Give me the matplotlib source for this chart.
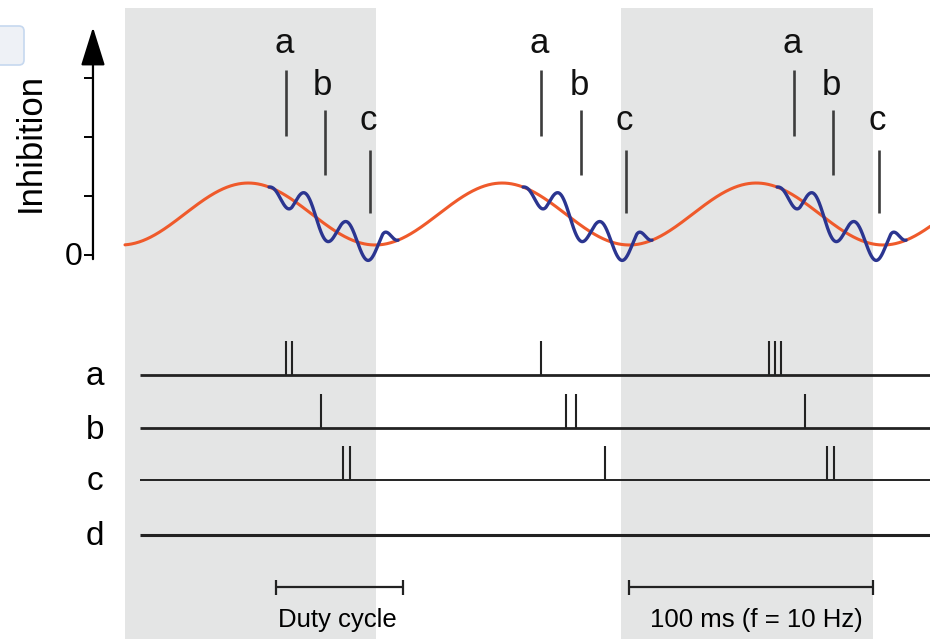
import numpy as np
import matplotlib
matplotlib.use('Agg')
import matplotlib.pyplot as plt
from matplotlib.patches import FancyBboxPatch, Rectangle
from matplotlib.transforms import IdentityTransform

plt.rcParams['font.family'] = ['Liberation Sans', 'DejaVu Sans']

# ---- values (time in ms, inhibition in a.u.) ----
shade_start = [0.0, 195.3]
shade_end = [98.8, 294.5]

# slow (theta) inhibition
theta_period = 100.0
theta_peak = 48.5
theta_mean = 0.695
theta_amp = 0.525
theta_t0, theta_t1 = 0.0, 320.0

# fast (gamma) ripple riding on the decay phase
cycle_offsets = [0, 100, 200]
gamma_on = 56.7
gamma_off = 107.5
gamma_zero = 58.9
gamma_period = 16.3
gamma_amp = 0.27

# a/b/c marker lines above the trace
marker_a = [63.4, 163.8, 263.4]
marker_b = [78.7, 179.5, 278.7]
marker_c = [96.5, 197.2, 296.9]
marker_labels = ['a', 'b', 'c']

# spike trains
spikes_a = [63.4, 65.9, 163.8, 253.7, 255.9, 258.2]
spikes_b = [77.0, 173.6, 177.4, 267.7]
spikes_c = [85.9, 88.6, 189.0, 276.5, 279.2]
spikes_d = []
row_labels = ['a', 'b', 'c', 'd']

y_ticks = [0, 1, 2, 3]

duty_bar = (59.4, 109.3)
period_bar = (198.5, 294.6)

# ---- layout ----
fig = plt.figure(figsize=(9.3, 6.39), dpi=100)
ax = fig.add_axes([0, 0, 1, 1])
ax.set_xlim(-49.2, 316.9)
ax.set_ylim(-6.508, 4.322)
ax.axis('off')

shade_top = 4.19
shade_col = '#e4e5e5'
red = '#ef5a2b'
blue = '#2b3590'
ink = '#222222'

for s0, s1 in zip(shade_start, shade_end):
    ax.add_patch(Rectangle((s0, -7), s1 - s0, shade_top + 7, color=shade_col, lw=0, zorder=0))

# inhibition traces
t = np.linspace(theta_t0, theta_t1, 1500)
theta = theta_mean + theta_amp * np.cos(2 * np.pi * (t - theta_peak) / theta_period)
ax.plot(t, theta, color=red, lw=2.2, zorder=3, solid_capstyle='round')

for off in cycle_offsets:
    tg = np.linspace(gamma_on + off, gamma_off + off, 400)
    base = theta_mean + theta_amp * np.cos(2 * np.pi * (tg - theta_peak) / theta_period)
    env = np.clip((tg - gamma_on - off) / 9.0, 0, 1) * np.clip((gamma_off + off - tg) / 6.0, 0, 1)
    ripple = -gamma_amp * env * np.sin(2 * np.pi * (tg - gamma_zero - off) / gamma_period)
    ax.plot(tg, base + ripple, color=blue, lw=2.4, zorder=4, solid_capstyle='round')

# marker lines + letters
marker_y = {'a': (2.02, 3.14, 3.42), 'b': (1.36, 2.46, 2.71), 'c': (0.71, 1.78, 2.12)}
for name, times in zip(marker_labels, [marker_a, marker_b, marker_c]):
    y0, y1, ytxt = marker_y[name]
    ax.vlines(times, y0, y1, color='#3c3c3c', lw=1.9, zorder=5)
    for tm in times:
        ax.text(tm - 0.8, ytxt, name, ha='center', va='baseline', fontsize=25, color='#111111')

# y axis with arrow
x_axis = -12.6
ax.annotate('', xy=(x_axis, 3.86), xytext=(x_axis, -0.07),
            arrowprops=dict(arrowstyle='-|>,head_length=1.6,head_width=0.5',
                            mutation_scale=15, lw=1.6, color='black',
                            shrinkA=0, shrinkB=0))
ax.hlines(y_ticks, x_axis - 3.5, x_axis, color='black', lw=1.4)
ax.text(-20.4, -0.17, '0', ha='center', va='baseline', fontsize=23)
ax.text(-37.2, 1.915, 'Inhibition', rotation=90, ha='center', va='center', fontsize=25)

# spike rasters
row_y = [-2.04, -2.94, -3.82, -4.75]
row_lw = [2.0, 2.0, 1.4, 2.2]
spike_h = 0.58
for lab, y, lw, sp in zip(row_labels, row_y, row_lw, [spikes_a, spikes_b, spikes_c, spikes_d]):
    ax.hlines(y, 6.1, 320, color=ink, lw=lw, zorder=3)
    if sp:
        ax.vlines(sp, y, y + spike_h, color=ink, lw=1.5, zorder=3)
    ax.text(-11.8, y - 0.17, lab, ha='center', va='baseline', fontsize=24)

# scale bars
bar_y = -5.63
cap = 0.13
for (b0, b1), txt in zip([duty_bar, period_bar], ['Duty cycle', '100 ms (f = 10 Hz)']):
    ax.hlines(bar_y, b0, b1, color=ink, lw=1.6)
    ax.vlines([b0, b1], bar_y - cap, bar_y + cap, color=ink, lw=1.6)
duty_mid = 83.5
period_mid = 248.7
ax.text(duty_mid, -6.31, 'Duty cycle', ha='center', va='baseline', fontsize=18.5)
ax.text(period_mid, -6.31, '100 ms (f = 10 Hz)', ha='center', va='baseline', fontsize=18.5)

# small UI box at top-left edge of the source image
fig.patches.append(FancyBboxPatch((-6, 639 - 65), 30, 39,
                                  boxstyle='round,pad=0,rounding_size=5',
                                  transform=IdentityTransform(),
                                  facecolor='#eef1f6', edgecolor='#c6d8ef', lw=1.2))

fig.savefig('out.png', dpi=100)
